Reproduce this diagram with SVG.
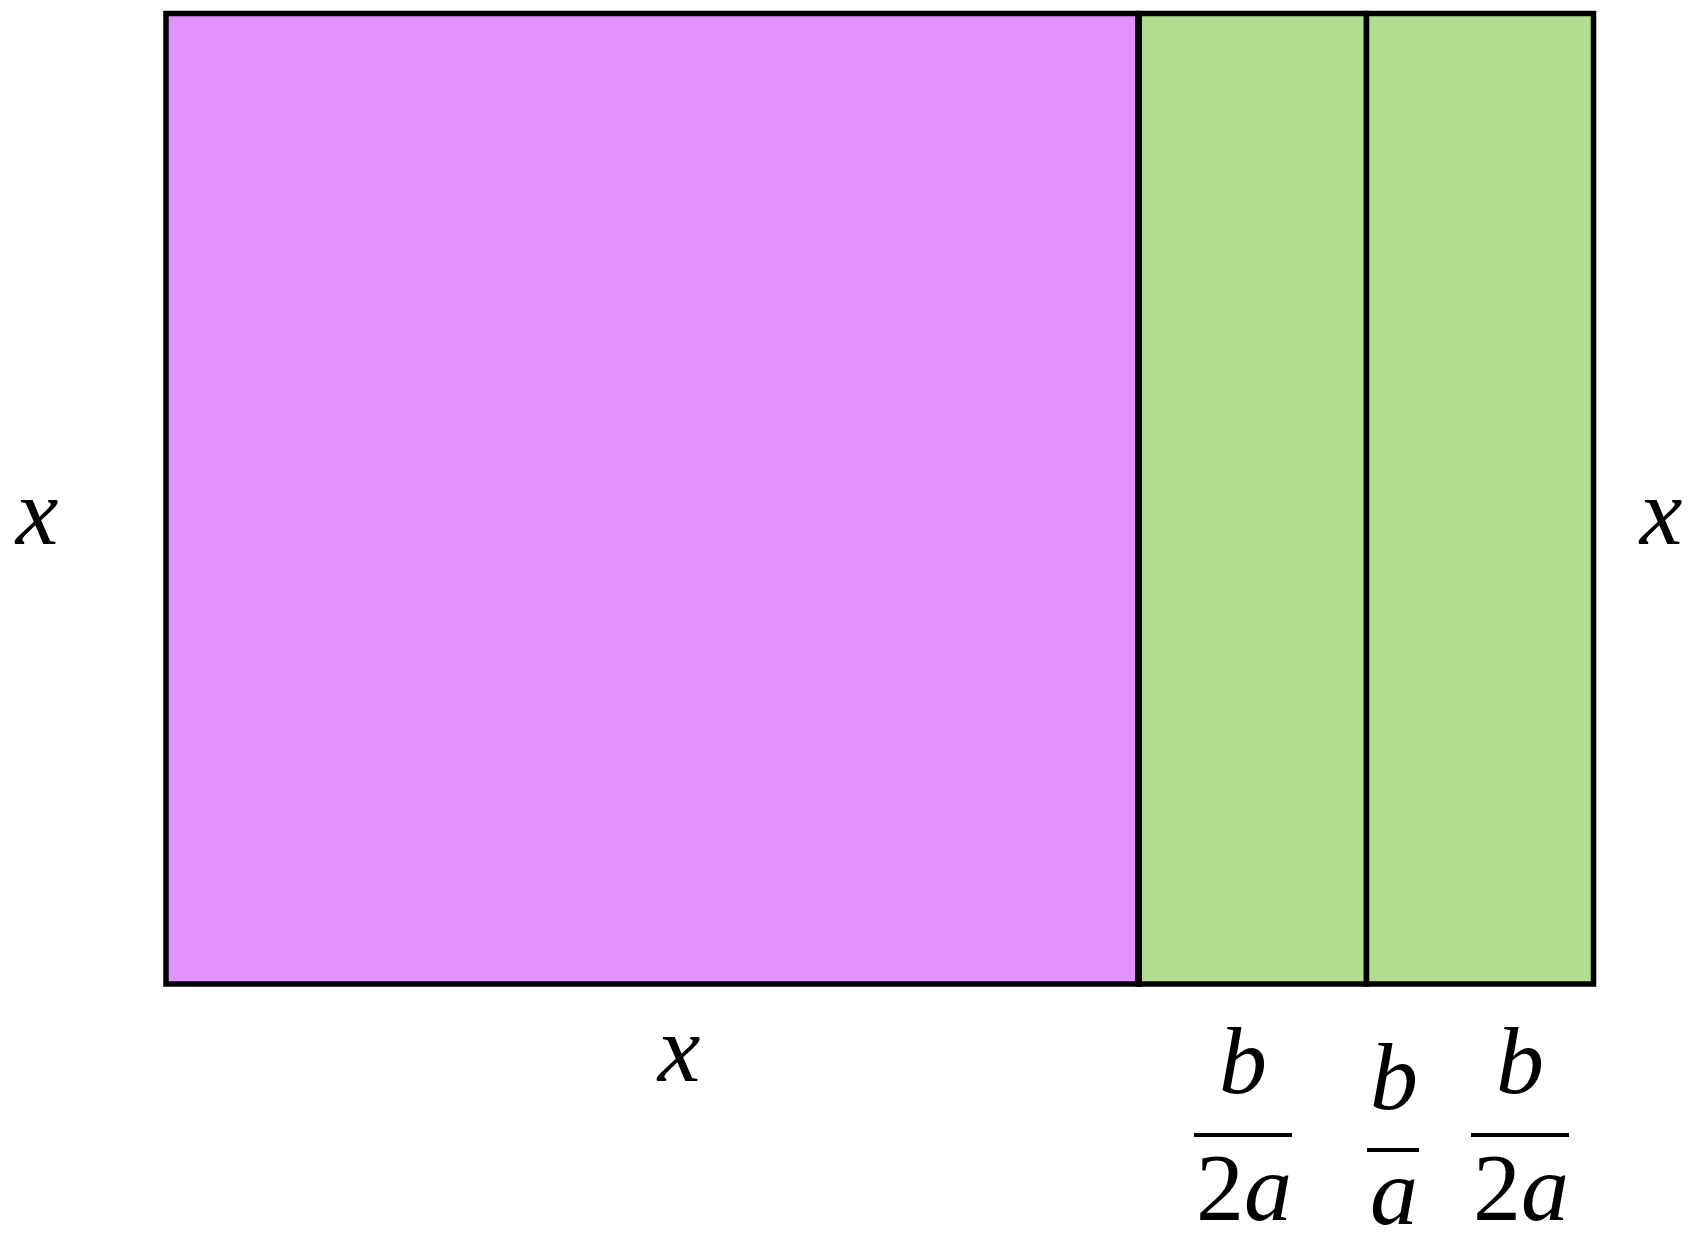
<svg xmlns="http://www.w3.org/2000/svg" width="1693" height="1244" viewBox="0 0 1693 1244">
<style>
.box{stroke:#000;stroke-width:5.5;stroke-linejoin:miter}
.purple{fill:#E291FD}
.green{fill:#B3DD8E}
.m{font-family:'Liberation Serif','Times New Roman',serif;font-size:96px;font-style:italic;fill:#000;text-anchor:middle}
.up{font-style:normal}
.bar{stroke:#000;stroke-width:4}
</style>
<rect width="1693" height="1244" fill="#fff"/>
<g id="square-x2">
<rect class="box purple" x="166" y="13.5" width="972.5" height="970.5"/>
</g>
<g id="strip-left">
<rect class="box green" x="1138.5" y="13.5" width="228" height="970.5"/>
</g>
<g id="strip-right">
<rect class="box green" x="1366.5" y="13.5" width="227" height="970.5"/>
</g>
<line x1="1138.5" y1="11" x2="1138.5" y2="986.5" stroke="#000" stroke-width="7"/>
<g id="label-left-x"><text class="m" x="37" y="544">x</text></g>
<g id="label-right-x"><text class="m" x="1661" y="544">x</text></g>
<g id="label-bottom-x"><text class="m" x="679" y="1081">x</text></g>
<g id="frac-left">
<text class="m" x="1243" y="1093">b</text>
<line class="bar" x1="1194" y1="1135" x2="1292" y2="1135"/>
<text class="m" x="1244" y="1220"><tspan class="up">2</tspan>a</text>
</g>
<g id="frac-middle">
<text class="m" x="1394" y="1109">b</text>
<line class="bar" x1="1367" y1="1150" x2="1419" y2="1150"/>
<text class="m" x="1394" y="1224">a</text>
</g>
<g id="frac-right">
<text class="m" x="1520" y="1093">b</text>
<line class="bar" x1="1471" y1="1135" x2="1569" y2="1135"/>
<text class="m" x="1521" y="1220"><tspan class="up">2</tspan>a</text>
</g>
</svg>
